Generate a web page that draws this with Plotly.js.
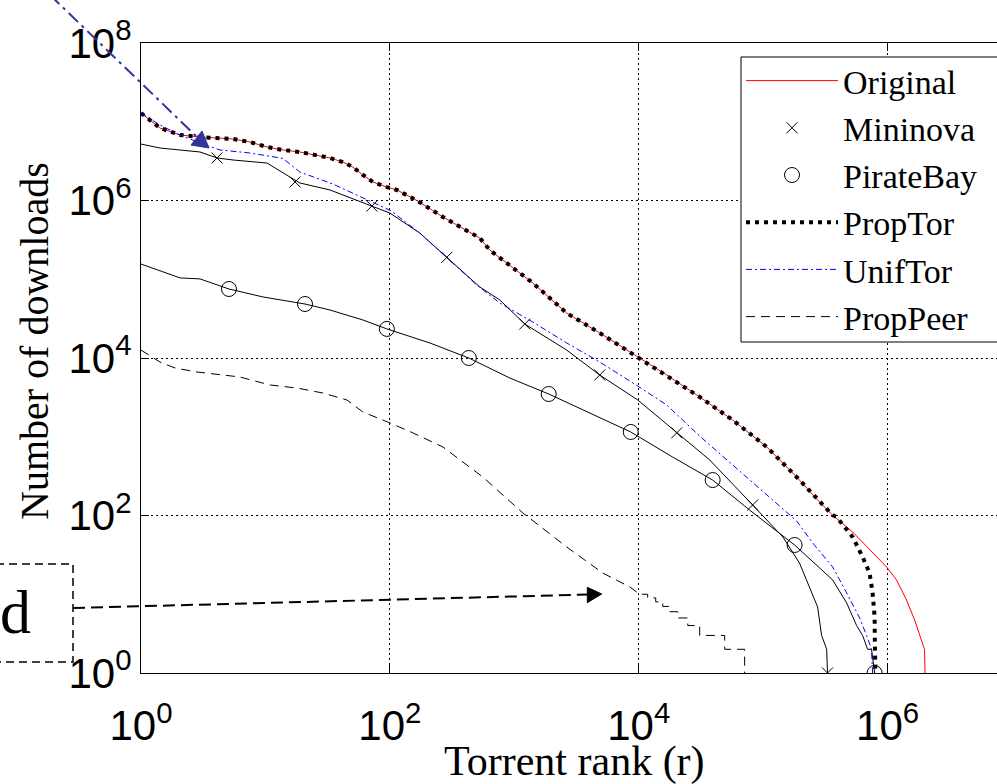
<!DOCTYPE html>
<html><head><meta charset="utf-8">
<script src="https://cdn.plot.ly/plotly-3.0.1.min.js"></script>
<style>html,body{margin:0;padding:0;overflow:hidden;background:#fff;width:997px;height:784px}</style>
</head><body><div id="chart" style="width:1030px;height:784px"></div>
<script>
// ---- data ----
const origRank = [1, 1.42, 2.06, 2.98, 5.48, 7.51, 10.3, 13.8, 18.9, 25.9, 33.0, 41.9, 50.4, 60.7, 73.0, 94.6, 114, 165, 267, 528, 635, 1409, 2640, 4860, 9820, 16800, 30900, 56900, 107000, 186000, 274000, 362000, 524000, 982000, 1180000, 1420000, 1650000, 1810000, 1980000, 2000000];
const origDl = [1.29e7, 8.33e6, 6.79e6, 6.40e6, 6.04e6, 5.53e6, 4.78e6, 4.38e6, 4.13e6, 3.78e6, 3.47e6, 3.08e6, 2.66e6, 2.11e6, 1.72e6, 1.48e6, 1.36e6, 1.0e6, 6.17e5, 3.34e5, 2.35e5, 8.96e4, 3.72e4, 2.08e4, 1.03e4, 6080, 3200, 1630, 741, 308, 157, 101, 61.7, 22.2, 15.2, 8.45, 4.71, 3, 2, 1];

const propTorRank = [1, 1.42, 2.06, 2.98, 5.48, 7.51, 10.3, 13.8, 18.9, 25.9, 33.0, 41.9, 50.4, 60.7, 73.0, 94.6, 114, 165, 267, 528, 635, 1409, 2640, 4860, 9820, 16800, 30900, 56900, 107000, 186000, 274000, 362000, 389000, 524000, 630000, 717000, 758000, 787000, 790000, 798000];
const propTorDl = [1.29e7, 8.33e6, 6.79e6, 6.40e6, 6.04e6, 5.53e6, 4.78e6, 4.38e6, 4.13e6, 3.78e6, 3.47e6, 3.08e6, 2.66e6, 2.11e6, 1.72e6, 1.48e6, 1.36e6, 1.0e6, 6.17e5, 3.34e5, 2.35e5, 8.96e4, 3.72e4, 2.08e4, 1.03e4, 6080, 3200, 1630, 741, 308, 157, 101, 95.7, 53.3, 29.7, 18.6, 10.4, 5.14, 2.6, 1];

const minRank = [1, 1.42, 2.98, 4.08, 5.48, 10.3, 15.7, 18.9, 33.0, 60.7, 100, 174, 287, 528, 765, 1215, 2640, 4860, 9820, 20200, 37200, 82400, 144000, 196000, 236000, 274000, 295000, 324000, 329000];
const minDl = [5.21e6, 4.64e6, 4.13e6, 3.47e6, 3.27e6, 2.99e6, 1.99e6, 1.67e6, 1.36e6, 9.29e5, 6.93e5, 3.86e5, 1.92e5, 7.98e4, 5.46e4, 2.70e4, 1.26e4, 6080, 2930, 1120, 507, 136, 53.3, 24.9, 12.4, 6.89, 3, 2, 1];
const minMkRank = [4.08, 17.3, 71.7, 287, 1215, 4860, 20200, 82400, 329000];
const minMkDl = [3.47e6, 1.72e6, 8.51e5, 1.9e5, 2.70e4, 6080, 1120, 136, 1];

const pbRank = [1, 2.06, 2.98, 5.09, 9.55, 20.8, 33.0, 60.7, 94.6, 210, 431, 920, 1890, 4040, 8630, 18700, 39300, 78000, 179000, 362000, 469000, 564000, 630000, 691000, 743000, 787000];
const pbDl = [1.56e5, 1.04e5, 1.01e5, 7.52e4, 5.96e4, 4.85e4, 4.07e4, 3.04e4, 2.34e4, 1.55e4, 1.0e4, 5570, 3490, 2000, 1150, 553, 282, 117, 42.2, 15.2, 7.74, 4, 3, 2, 2, 1];
const pbMkRank = [5.09, 20.8, 94.6, 431, 1890, 8630, 39300, 179000, 787000];
const pbMkDl = [7.52e4, 4.85e4, 2.34e4, 1.0e4, 3490, 1150, 282, 42.2, 1];

const unifRank = [1, 1.42, 2.06, 2.98, 4.31, 7.51, 13.8, 18.9, 34.8, 60.7, 102, 174, 287, 500, 765, 1409, 2640, 4860, 9820, 16800, 30900, 56900, 107000, 186000, 250000, 362000, 469000, 596000, 678000, 743000, 758000];
const unifDl = [1.29e7, 9.1e6, 6.79e6, 5.37e6, 4.38e6, 4.01e6, 3.43e6, 2.30e6, 1.62e6, 1.08e6, 7.41e5, 3.86e5, 1.86e5, 8.45e4, 4.99e4, 2.86e4, 1.55e4, 8890, 4410, 2530, 1020, 438, 182, 85.1, 44.8, 22.2, 10.4, 5, 3, 2, 1];

const ppRank = [1, 1.42, 1.88, 2.82, 6.24, 10.9, 17.9, 29.0, 45.2, 60.7, 100, 153, 267, 559, 1170, 2640, 5140, 8470, 10180, 11800, 11800, 13700, 13700, 15600, 15600, 17700, 17700, 20600, 20600, 24800, 24800, 30900, 30900, 49100, 49100, 71000, 71000];
const ppDl = [12600, 8890, 7460, 6640, 5740, 4540, 4160, 3590, 2930, 2060, 1500, 1120, 741, 308, 108, 39.8, 18.6, 12.4, 10, 10, 9, 9, 8, 8, 7, 7, 6, 6, 5, 5, 4, 4, 3, 3, 2, 2, 1];

const xTickVals = [1, 100, 1e4, 1e6];
const xTickText = ['10<sup>0</sup>', '10<sup>2</sup>', '10<sup>4</sup>', '10<sup>6</sup>'];
const yTickVals = [1, 100, 1e4, 1e6, 1e8];
const yTickText = ['10<sup>0</sup>', '10<sup>2</sup>', '10<sup>4</sup>', '10<sup>6</sup>', '10<sup>8</sup>'];

// ---- geometry ----
const W = 1030, H = 784, L = 141, T = 43, B = 111, R = 18;
const PW = W - L - R, PH = H - T - B;
const X = px => (px - L) / PW;
const Y = py => (H - B - py) / PH;

const SERIF = 'Liberation Serif, Times New Roman, serif';
const SANS = 'Liberation Sans, Arial, sans-serif';

const traces = [
  {x: origRank, y: origDl, mode: 'lines', name: 'Original', legendgroup: 'g1',
   line: {color: '#ff0000', width: 1}},
  {x: minRank, y: minDl, mode: 'lines', name: 'Mininova', legendgroup: 'g2', showlegend: false,
   line: {color: '#000000', width: 1}},
  {x: minMkRank, y: minMkDl, mode: 'markers', name: 'Mininova', legendgroup: 'g2',
   marker: {symbol: 'x-thin', size: 11, color: '#000', line: {color: '#000', width: 1}}},
  {x: pbRank, y: pbDl, mode: 'lines', name: 'PirateBay', legendgroup: 'g3', showlegend: false,
   line: {color: '#000000', width: 1}},
  {x: pbMkRank, y: pbMkDl, mode: 'markers', name: 'PirateBay', legendgroup: 'g3',
   marker: {symbol: 'circle-open', size: 15, color: '#000', line: {color: '#000', width: 1}}},
  {x: propTorRank, y: propTorDl, mode: 'lines', name: 'PropTor', legendgroup: 'g4',
   line: {color: '#000000', width: 4, dash: '4px,5px'}},
  {x: unifRank, y: unifDl, mode: 'lines', name: 'UnifTor', legendgroup: 'g5',
   line: {color: '#0000ff', width: 1, dash: '6px,3px,2px,3px'}},
  {x: ppRank, y: ppDl, mode: 'lines', name: 'PropPeer', legendgroup: 'g6',
   line: {color: '#000000', width: 1, dash: '9px,6px'}},
  // empty trace that only carries the inside tick marks of the bottom/top axis
  {x: [], y: [], xaxis: 'x2', yaxis: 'y', mode: 'lines', showlegend: false, hoverinfo: 'skip'}
];

const axisCommon = {
  type: 'log', tickmode: 'array', showgrid: true, gridcolor: '#000', gridwidth: 1,
  griddash: '2px,3px', tickcolor: '#000', tickwidth: 1,
  showline: true, linecolor: '#000', linewidth: 1, zeroline: false,
  tickfont: {family: SANS, size: 42, color: '#000'}, fixedrange: true
};

const layout = {
  width: W, height: H,
  margin: {l: L, r: R, t: T, b: B},
  paper_bgcolor: '#fff', plot_bgcolor: '#fff',
  showlegend: true,
  xaxis: Object.assign({}, axisCommon, {range: [0, 7], tickvals: xTickVals, ticktext: xTickText,
    ticks: 'outside', ticklen: 16, tickcolor: 'rgba(0,0,0,0)', mirror: true}),
  xaxis2: {type: 'log', range: [0, 7], overlaying: 'x', anchor: 'y', side: 'bottom',
    tickmode: 'array', tickvals: xTickVals, ticks: 'inside', ticklen: 8, tickcolor: '#000', tickwidth: 1,
    mirror: 'ticks', showticklabels: false, showgrid: false, showline: false, zeroline: false, fixedrange: true},
  yaxis: Object.assign({}, axisCommon, {range: [0, 8], tickvals: yTickVals, ticktext: yTickText,
    ticks: 'inside', ticklen: 8, mirror: 'ticks'}),
  legend: {x: X(741), y: Y(52), xanchor: 'left', yanchor: 'top', bgcolor: 'rgba(0,0,0,0)',
    borderwidth: 0, font: {family: SERIF, size: 34, color: '#000'},
    itemwidth: 92, traceorder: 'grouped', tracegroupgap: 0},
  annotations: [
    {xref: 'paper', yref: 'paper', x: X(574), y: Y(761), text: 'Torrent rank (r)',
     showarrow: false, xanchor: 'center', yanchor: 'middle', font: {family: SERIF, size: 42, color: '#000'}},
    {xref: 'paper', yref: 'paper', x: X(34), y: Y(341), text: 'Number of downloads', textangle: -90,
     showarrow: false, xanchor: 'center', yanchor: 'middle', font: {family: SERIF, size: 40, color: '#000'}},
    {xref: 'paper', yref: 'paper', x: X(15), y: Y(612), text: 'd', showarrow: false,
     xanchor: 'center', yanchor: 'middle', font: {family: SERIF, size: 62, color: '#000'}}
  ],
  shapes: [
    // legend frame (extends past the cropped right edge like the reference)
    {type: 'rect', xref: 'paper', yref: 'paper', x0: X(741), x1: X(1025), y0: Y(342), y1: Y(57),
     line: {color: '#000', width: 1}, fillcolor: '#ffffff', layer: 'above'},
    {type: 'line', xref: 'paper', yref: 'paper', x0: X(50), y0: Y(-5), x1: X(198), y1: Y(138),
     line: {color: '#333399', width: 2, dash: '13px,5px,3px,5px'}},
    {type: 'path', xref: 'paper', yref: 'paper',
     path: `M ${X(202)},${Y(131)} L ${X(191)},${Y(145)} L ${X(209)},${Y(148)} Z`,
     fillcolor: '#333399', line: {color: '#333399', width: 1}},
    {type: 'rect', xref: 'paper', yref: 'paper', x0: X(-20), x1: X(73), y0: Y(662), y1: Y(564),
     line: {color: '#000', width: 1.5, dash: '8px,5px'}, fillcolor: 'rgba(0,0,0,0)'},
    {type: 'line', xref: 'paper', yref: 'paper', x0: X(73), y0: Y(608), x1: X(589), y1: Y(594.5),
     line: {color: '#000', width: 2, dash: '12px,6px'}},
    {type: 'path', xref: 'paper', yref: 'paper',
     path: `M ${X(587.3)},${Y(587.3)} L ${X(587.3)},${Y(602.7)} L ${X(601.7)},${Y(594)} Z`,
     fillcolor: '#000', line: {color: '#000', width: 1}}
  ]
};

Plotly.newPlot('chart', traces, layout, {displayModeBar: false, staticPlot: true});
</script></body></html>
